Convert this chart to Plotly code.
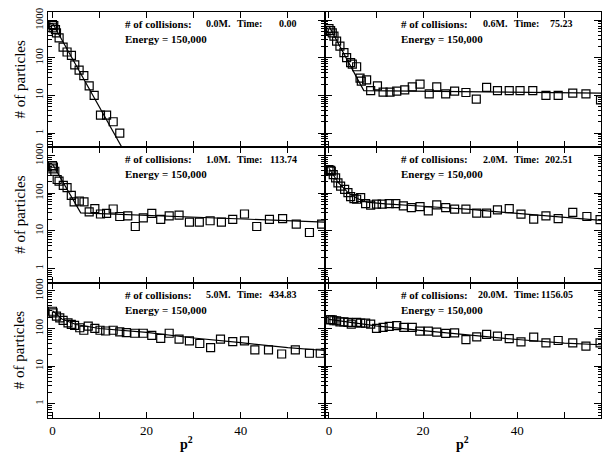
import plotly.graph_objects as go
from plotly.subplots import make_subplots

# ---------------- data ----------------
p1_x = [0.0, 0.28, 0.14, 0.64, 0.85, 1.41, 2.26, 3.1, 4.03, 4.74, 5.66, 6.66, 7.8, 8.86, 10.2, 11.5, 12.9, 14.3]
p1_y = [766, 721, 626, 564, 462, 341, 194, 143, 117, 65, 47, 33.5, 18, 10, 3, 3, 2, 1]
fit1_x = [0, 15.2]
fit1_y = [850, 0.33]

p2_x = [0.0, 0.35, 0.7, 1.06, 1.62, 2.33, 3.18, 3.75, 4.6, 4.96, 5.88, 6.6, 6.87, 8.0, 8.86, 10.3,
        11.5, 12.97, 14.4, 16.1, 17.7, 19.35, 21.3, 22.9, 24.8, 26.7, 29.1, 31.3, 33.5, 35.8,
        38.3, 40.6, 43.3, 46.1, 48.7, 51.8, 54.6, 57.7]
p2_y = [601, 532, 462, 378, 279, 206, 137, 102, 75, 68, 58, 29, 24, 26, 13.5, 18,
        12.2, 12.2, 13, 14, 17, 20, 11, 17, 11, 13, 12, 8, 16.5, 13.5,
        13.5, 13.5, 13.5, 10, 10, 11.5, 11, 7.6]
fit2_x = [0, 7.4, 57.8]
fit2_y = [700, 13.5, 11.5]

p3_x = [0.0, 0.2, 0.1, 0.5, 1.0, 1.4, 2.3, 3.1, 4.0, 4.6, 5.7, 6.7, 7.8, 9.0, 10.2, 11.5, 12.9,
        14.3, 16.0, 17.6, 19.3, 21.1, 23.0, 24.8, 26.9, 29.1, 31.2, 33.5, 35.9, 38.3, 40.8,
        43.4, 46.1, 48.9, 51.8, 54.6, 57.2]
p3_y = [540, 498, 442, 383, 231, 209, 161, 140, 88, 59, 62, 59, 32, 39, 28, 29, 38,
        24, 25, 13, 22, 29, 20, 25, 26, 17, 17, 18.5, 17, 20, 28,
        13, 20, 21, 15, 9, 15]
fit3_x = [0, 6.0, 57.8]
fit3_y = [600, 30, 17]

p4_x = [0.0, 0.35, 0.49, 0.91, 1.41, 1.91, 2.47, 3.33, 4.03, 4.6, 5.31, 5.88, 6.73, 7.79, 8.86,
        10.1, 11.3, 12.8, 14.2, 15.8, 17.5, 19.35, 21.1, 22.9, 24.8, 26.7, 29.1, 31.4, 33.5,
        35.8, 38.3, 40.8, 43.5, 46.1, 48.7, 51.8, 54.8, 57.6]
p4_y = [424, 407, 383, 313, 256, 189, 155, 126, 103, 81, 72, 69, 76, 53, 48,
        51, 51, 53, 53, 46, 41.5, 44, 34, 49, 41.5, 37.6, 37.6, 29.5, 29.5,
        36, 39, 27.7, 20.5, 25, 21, 30.7, 24, 19.7]
fit4_x = [0, 2, 4, 6, 8, 12, 20, 30, 40, 50, 57.8]
fit4_y = [460, 190, 105, 72, 58, 52, 45, 37, 29, 23, 19]

p5_x = [0.0, 0.13, 0.85, 1.55, 2.26, 3.3, 4.0, 4.7, 5.8, 6.66, 7.6, 9.0, 10.1, 11.3, 12.9,
        14.3, 15.7, 17.5, 19.3, 21.1, 23.0, 24.8, 26.9, 29.1, 31.3, 33.6, 35.7, 38.3, 40.8,
        43.0, 45.9, 48.7, 51.6, 54.6, 56.9]
p5_y = [288, 261, 213, 193, 164, 142, 129, 121, 105, 90, 116, 101, 90, 86, 90,
        81, 78, 75, 75, 66, 55, 75, 52, 47, 40, 31, 52, 45, 47,
        27, 27, 21, 27, 22, 22]
fit5_x = [0, 2, 5, 10, 20, 30, 40, 50, 57.8]
fit5_y = [300, 180, 128, 100, 79, 56, 42, 31, 26]

p6_x = [0.0, 0.35, 0.7, 1.06, 1.62, 2.33, 3.18, 4.03, 4.74, 5.88, 6.73, 7.79, 8.86, 10.1, 11.5,
        12.8, 14.4, 15.9, 17.7, 19.3, 21.1, 22.9, 24.8, 26.7, 29.1, 31.4, 33.5, 35.8, 38.3,
        40.8, 43.5, 46.1, 48.7, 51.8, 54.6, 57.6]
p6_y = [171, 171, 171, 161, 161, 151, 151, 145, 131, 145, 140, 140, 131, 101, 107,
        114, 119, 107, 107, 85, 85, 80, 74, 77, 51, 60, 70, 63, 54,
        44, 59, 41.5, 48, 41.5, 34, 41.5]
fit6_x = [0, 10, 20, 30, 40, 50, 57.8]
fit6_y = [175, 118, 88, 67, 51, 41, 37]

collisions = ["0.0M.", "0.6M.", "1.0M.", "2.0M.", "5.0M.", "20.0M."]
times = ["0.00", "75.23", "113.74", "202.51", "434.83", "1156.05"]
energy_label = "Energy = 150,000"
y_ticks = [1, 10, 100, 1000]
y_ticktext = ["1", "10", "100", "1000"]
x_ticks = [0, 20, 40]
x_ticktext = ["0", "20", "40"]
x_unlabeled_ticks = [10, 30, 50]

points = [(p1_x, p1_y), (p2_x, p2_y), (p3_x, p3_y), (p4_x, p4_y), (p5_x, p5_y), (p6_x, p6_y)]
fits = [(fit1_x, fit1_y), (fit2_x, fit2_y), (fit3_x, fit3_y), (fit4_x, fit4_y), (fit5_x, fit5_y), (fit6_x, fit6_y)]

# ---------------- figure ----------------
fig = make_subplots(rows=3, cols=2, shared_xaxes=True, shared_yaxes=True,
                    horizontal_spacing=0, vertical_spacing=0)

FONT = "Liberation Serif"
minor_vals = [m * 10 ** e for e in range(-1, 4) for m in range(2, 10)]

for i in range(6):
    r, c = i // 2 + 1, i % 2 + 1
    px_, py_ = points[i]
    fx, fy = fits[i]
    fig.add_trace(go.Scatter(x=fx, y=fy, mode="lines",
                             line=dict(color="black", width=1.2),
                             showlegend=False, hoverinfo="skip"), row=r, col=c)
    fig.add_trace(go.Scatter(x=px_, y=py_, mode="markers",
                             marker=dict(symbol="square-open", size=8, color="black",
                                         line=dict(width=1.2, color="black")),
                             showlegend=False), row=r, col=c)

    n = "" if i == 0 else str(i + 1)
    xr, yd = "x" + n, "y" + n + " domain"
    big = dict(family=FONT, size=11, color="black")
    small = dict(family=FONT, size=10, color="black")
    fig.add_annotation(x=14.9, y=0.912, xref=xr, yref=yd, text="<b># of collisions:</b>",
                       showarrow=False, xanchor="left", yanchor="middle", font=big)
    fig.add_annotation(x=38.4, y=0.912, xref=xr, yref=yd, text="<b>%s</b>" % collisions[i],
                       showarrow=False, xanchor="right", yanchor="middle", font=small)
    fig.add_annotation(x=38.8, y=0.912, xref=xr, yref=yd, text="<b>Time:</b>",
                       showarrow=False, xanchor="left", yanchor="middle", font=small)
    fig.add_annotation(x=52.3, y=0.912, xref=xr, yref=yd, text="<b>%s</b>" % times[i],
                       showarrow=False, xanchor="right", yanchor="middle", font=small)
    fig.add_annotation(x=14.9, y=0.80, xref=xr, yref=yd, text="<b>%s</b>" % energy_label,
                       showarrow=False, xanchor="left", yanchor="middle", font=big)

    fig.update_xaxes(range=[-0.95, 57.8], tickvals=x_ticks,
                     ticktext=x_ticktext, ticks="inside", ticklen=6, tickcolor="black",
                     minor=dict(tickvals=x_unlabeled_ticks, ticks="inside", ticklen=6, tickcolor="black"),
                     showline=True, linecolor="black", linewidth=1, mirror="ticks",
                     showgrid=False, zeroline=False, showticklabels=(r == 3),
                     tickfont=dict(family=FONT, size=13, color="black"), row=r, col=c)
    fig.update_yaxes(type="log", range=[-0.38, 3.22], tickvals=y_ticks, ticktext=y_ticktext,
                     tickangle=-90, ticks="inside", ticklen=7, tickcolor="black",
                     minor=dict(tickvals=minor_vals, ticks="inside", ticklen=3.5, tickcolor="black"),
                     showline=True, linecolor="black", linewidth=1, mirror="ticks",
                     showgrid=False, zeroline=False, showticklabels=(c == 1),
                     tickfont=dict(family=FONT, size=11, color="black"), row=r, col=c)

# y-axis titles for each row
for yname in ["y", "y3", "y5"]:
    fig.add_annotation(x=-0.051, y=0.5, xref="paper", yref=yname + " domain",
                       text="# of particles", textangle=-90, showarrow=False,
                       xanchor="center", yanchor="middle",
                       font=dict(family=FONT, size=15, color="black"))
# x-axis titles under each column
for xname in ["x5", "x6"]:
    fig.add_annotation(x=0.5, y=-0.062, xref=xname + " domain", yref="paper",
                       text="<b>p<sup>2</sup></b>", showarrow=False,
                       xanchor="center", yanchor="middle",
                       font=dict(family=FONT, size=14, color="black"))

fig.update_layout(width=609, height=462, margin=dict(l=48.2, r=8.2, t=7, b=44),
                  plot_bgcolor="white", paper_bgcolor="white")

fig.write_html("out.html")
